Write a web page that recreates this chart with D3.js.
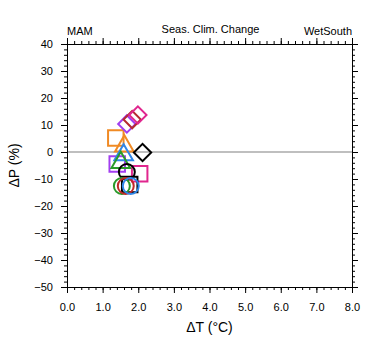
<!DOCTYPE html>
<meta charset="utf-8">
<script src="https://d3js.org/d3.v7.min.js"></script>
<style>
  body { margin: 0; background: #fff; }
  text { font-family: "Liberation Sans", Arial, sans-serif; fill: #000; }
</style>
<div id="chart"></div>
<script>
// model results, one entry per marker (drawn in this order)
const dT     = [1.37, 1.41, 2.04, 1.76, 1.61, 1.59, 1.51, 2.12, 1.68, 1.83, 1.99, 1.68, 1.54, 1.65, 1.79];
const dP     = [5.2, -4.4, -8.1, -12.0, 2.2, -1.1, -3.9, -0.2, 10.4, 12.0, 13.7, -7.4, -12.6, -12.6, -12.6];
const shapes = ["square", "square", "square", "square", "triangle", "triangle", "triangle",
                "diamond", "diamond", "diamond", "diamond", "circle", "circle", "circle", "circle"];
const colors = ["#f08a24", "#a23ef0", "#e0268e", "#000000", "#f08a24", "#2f86e8", "#2a9a2a",
                "#000000", "#a23ef0", "#b42a30", "#e0268e", "#000000", "#2a9a2a", "#c02828", "#2f86e8"];
const xTicks = [0, 1, 2, 3, 4, 5, 6, 7, 8];
const yTicks = [40, 30, 20, 10, 0, -10, -20, -30, -40, -50];

const margin = {top: 44, right: 28, bottom: 68, left: 67},
    width = 352 - margin.left,
    height = 287 - margin.top;

const svg = d3.select("#chart").append("svg")
    .attr("width", 380).attr("height", 355)
  .append("g")
    .attr("transform", `translate(${margin.left},${margin.top})`);

const x = d3.scaleLinear().domain([0, 8]).range([0, width]);
const y = d3.scaleLinear().domain([-50, 40]).range([height, 0]);

// zero line
svg.append("line")
    .attr("x1", 0).attr("x2", width)
    .attr("y1", y(0)).attr("y2", y(0))
    .attr("stroke", "#aaaaaa").attr("stroke-width", 1.5);

// axes: major + minor ticks on all four sides, pointing outward
function axisPair(axisFn, scale, major, minor, fmt, pad) {
  return [
    axisFn(scale).tickValues(minor).tickSize(3).tickFormat(""),
    axisFn(scale).tickValues(major).tickSize(6).tickPadding(pad).tickFormat(fmt)
  ];
}
const xMinor = d3.range(0, 8.01, 0.2);
const yMinor = d3.range(-50, 40.01, 2);

const sides = [
  [d3.axisBottom, x, xTicks, xMinor, d3.format(".1f"), `translate(0,${height})`, 10],
  [d3.axisTop, x, xTicks, xMinor, "", "translate(0,0)", 3],
  [d3.axisLeft, y, yTicks, yMinor, d3.format("d"), "translate(0,0)", 8],
  [d3.axisRight, y, yTicks, yMinor, "", `translate(${width},0)`, 3]
];
sides.forEach(([fn, sc, maj, mi, fmt, tr, pad]) => {
  axisPair(fn, sc, maj, mi, fmt, pad).forEach(ax => {
    const g = svg.append("g").attr("transform", tr).call(ax);
    g.select(".domain").attr("stroke", "#000");
    g.selectAll("line").attr("stroke", "#000");
    g.selectAll("text").style("font-size", "11px")
      .style("font-family", "'Liberation Sans', Arial, sans-serif");
  });
});
svg.selectAll("text").attr("fill", "#000");

// markers
const sym = {
  square: d3.symbol().type(d3.symbolSquare).size(240),
  triangle: d3.symbol().type(d3.symbolTriangle).size(150),
  circle: d3.symbol().type(d3.symbolCircle).size(200)
};
svg.append("g").selectAll("path")
  .data(dT)
  .join("path")
    .attr("transform", (d, i) => {
      const t = `translate(${x(d)},${y(dP[i])})`;
      return shapes[i] === "diamond" ? t + " rotate(45)" : t;
    })
    .attr("d", (d, i) => shapes[i] === "diamond" ? d3.symbol().type(d3.symbolSquare).size(150)() : sym[shapes[i]]())
    .attr("fill", "none")
    .attr("stroke", (d, i) => colors[i])
    .attr("stroke-width", 2);

// titles
svg.append("text").attr("x", 0).attr("y", -9)
    .style("font-size", "11px").text("MAM");
svg.append("text").attr("x", width / 2 + 1).attr("y", -11)
    .attr("text-anchor", "middle").style("font-size", "11px").text("Seas. Clim. Change");
svg.append("text").attr("x", width).attr("y", -9)
    .attr("text-anchor", "end").style("font-size", "11px").text("WetSouth");

svg.append("text").attr("x", width / 2).attr("y", height + 45)
    .attr("text-anchor", "middle").style("font-size", "14px").text("\u0394T (\u00b0C)");
svg.append("text")
    .attr("transform", `translate(-48,${height / 2}) rotate(-90)`)
    .attr("text-anchor", "middle").style("font-size", "14px").text("\u0394P (%)");
</script>
